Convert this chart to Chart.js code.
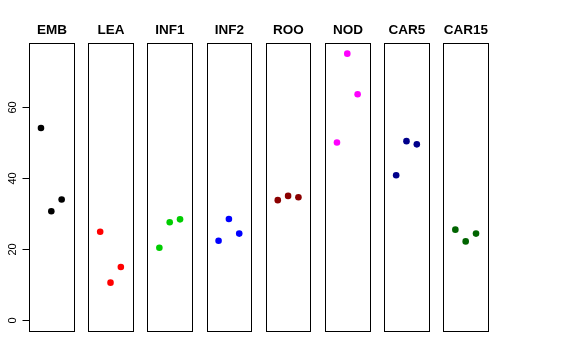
<!DOCTYPE html>
<html>
<head>
<meta charset="utf-8">
<script src="https://cdn.jsdelivr.net/npm/chart.js@4"></script>
<style>
  html, body { margin: 0; padding: 0; background: #fff; }
  #wrap { width: 576px; height: 360px; }
</style>
</head>
<body>
<div id="wrap"><canvas id="chart" width="576" height="360"></canvas></div>
<script>
// panel names and the three values in each panel
var panels = ['EMB', 'LEA', 'INF1', 'INF2', 'ROO', 'NOD', 'CAR5', 'CAR15'];
var embValues = [54.1, 30.7, 34.0];
var leaValues = [24.9, 10.6, 15.0];
var inf1Values = [20.4, 27.6, 28.4];
var inf2Values = [22.4, 28.5, 24.4];
var rooValues = [33.8, 35.0, 34.6];
var nodValues = [50.0, 75.0, 63.6];
var car5Values = [40.8, 50.4, 49.5];
var car15Values = [25.5, 22.2, 24.4];
var panelColors = ['#000000', '#FF0000', '#00CD00', '#0000FF', '#8B0000', '#FF00FF', '#00008B', '#006400'];
var yTicks = [0, 20, 40, 60];

var allValues = [embValues, leaValues, inf1Values, inf2Values, rooValues, nodValues, car5Values, car15Values];

// each panel spans x = -0.16 .. 4.16 (points at 1,2,3), panels are PANEL_STEP apart
var PANEL_STEP = 5.73;
var PAD = 0.16;

var datasets = panels.map(function(name, i) {
    return {
        label: name,
        data: allValues[i].map(function(v, j) { return { x: i * PANEL_STEP + j + 1, y: v }; }),
        backgroundColor: panelColors[i],
        borderColor: panelColors[i],
        pointRadius: 3.3,
        pointHoverRadius: 3.3,
        borderWidth: 0
    };
});

var panelPlugin = {
    id: 'panels',
    afterDatasetsDraw: function(chart) {
        var ctx = chart.ctx;
        var xs = chart.scales.x;
        var ys = chart.scales.y;
        var top = chart.chartArea.top;
        var bottom = chart.chartArea.bottom;
        ctx.save();
        ctx.strokeStyle = '#000';
        ctx.lineWidth = 1;
        panels.forEach(function(name, i) {
            var left = Math.round(xs.getPixelForValue(i * PANEL_STEP - PAD));
            var right = Math.round(xs.getPixelForValue(i * PANEL_STEP + 4 + PAD));
            ctx.strokeRect(left + 0.5, Math.round(top) + 0.5, right - left, Math.round(bottom - top));
            ctx.fillStyle = '#000';
            ctx.font = 'bold 13.5px "Liberation Sans", Arial, sans-serif';
            ctx.textAlign = 'center';
            ctx.textBaseline = 'alphabetic';
            ctx.fillText(name, (left + right) / 2 + 0.5, 34);
        });
        // y axis
        var ax = Math.round(xs.getPixelForValue(-PAD)) + 0.5;
        ctx.beginPath();
        ctx.moveTo(ax, Math.round(ys.getPixelForValue(yTicks[0])) + 0.5);
        ctx.lineTo(ax, Math.round(ys.getPixelForValue(yTicks[yTicks.length - 1])) + 0.5);
        ctx.stroke();
        ctx.font = '11px "Liberation Sans", Arial, sans-serif';
        ctx.fillStyle = '#000';
        yTicks.forEach(function(t) {
            var py = Math.round(ys.getPixelForValue(t)) + 0.5;
            ctx.beginPath();
            ctx.moveTo(ax - 7, py);
            ctx.lineTo(ax, py);
            ctx.stroke();
            ctx.save();
            ctx.translate(15.5, py);
            ctx.rotate(-Math.PI / 2);
            ctx.textAlign = 'center';
            ctx.textBaseline = 'alphabetic';
            ctx.fillText(String(t), 0, 0);
            ctx.restore();
        });
        ctx.restore();
    }
};

var chart = new Chart(document.getElementById('chart').getContext('2d'), {
    type: 'scatter',
    data: { datasets: datasets },
    options: {
        responsive: false,
        animation: false,
        layout: { padding: { left: 29, right: 88, top: 43, bottom: 29 } },
        scales: {
            x: { type: 'linear', display: false, min: -PAD, max: 7 * PANEL_STEP + 4 + PAD },
            y: { type: 'linear', display: false, min: -3, max: 78 }
        },
        plugins: {
            legend: { display: false },
            tooltip: { enabled: false }
        },
        elements: { point: { pointStyle: 'circle' } }
    },
    plugins: [panelPlugin]
});
</script>
</body>
</html>
